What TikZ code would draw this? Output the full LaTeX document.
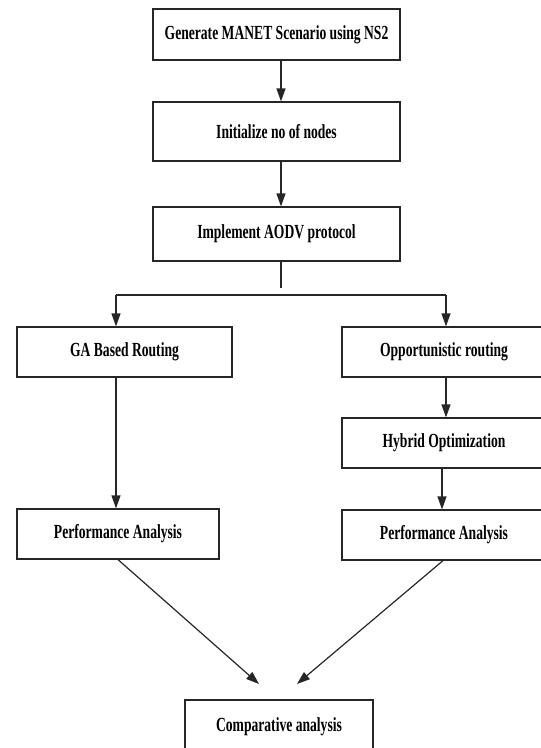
\documentclass[tikz,border=0pt]{standalone}
\usepackage{fontspec}
\setmainfont{Liberation Serif}[FakeStretch=0.68]
\usetikzlibrary{arrows.meta}
\begin{document}
\begin{tikzpicture}[x=1pt,y=-1pt,
  box/.style={draw=black!85,line width=1.2pt,rectangle,inner sep=0pt,
    font=\fontsize{20}{22}\selectfont\bfseries},
  conn/.style={draw=black!85,line width=1.2pt},
  arr/.style={conn,-{Triangle[width=9pt,length=13pt]}}]
\useasboundingbox (0,0) rectangle (541,748);
\clip (0,0) rectangle (541,748);
\node[box,minimum width=247pt,minimum height=51pt] (gen) at (276.5,34.5) {Generate MANET Scenario using NS2};
\node[box,minimum width=247pt,minimum height=59pt] (init) at (276.5,131.5) {Initialize no of nodes};
\node[box,minimum width=247pt,minimum height=54pt] (aodv) at (276.5,234) {Implement AODV protocol};
\node[box,minimum width=215pt,minimum height=50pt] (ga) at (124.5,352) {GA Based Routing};
\node[box,minimum width=204pt,minimum height=50pt] (opp) at (444,352) {Opportunistic routing};
\node[box,minimum width=204pt,minimum height=50pt] (hyb) at (444,443) {Hybrid Optimization};
\node[box,minimum width=202pt,minimum height=50pt] (pl) at (118,534) {Performance Analysis};
\node[box,minimum width=204pt,minimum height=50pt] (pr) at (444,535) {Performance Analysis};
\node[box,minimum width=188pt,minimum height=70pt] (comp) at (279,735) {};
\node[font=\fontsize{20}{22}\selectfont\bfseries] (comptxt) at (279,727) {Comparative analysis};
\coordinate (stub) at (281,288);
\coordinate (jl) at (116,295);
\coordinate (jr) at (446,295);
\coordinate (tl) at (259,684);
\coordinate (tr) at (297,684);
\draw[arr] (gen.south -| stub) -- (init.north -| stub);
\draw[arr] (init.south -| stub) -- (aodv.north -| stub);
\draw[conn] (aodv.south -| stub) -- (stub);
\draw[conn] (jl) -- (jr);
\draw[arr] (jl) -- (ga.north -| jl);
\draw[arr] (jr) -- (opp.north -| jr);
\draw[arr] (ga.south -| jl) -- (pl.north -| jl);
\draw[arr] (opp.south -| jr) -- (hyb.north -| jr);
\draw[arr] ([xshift=-2pt]hyb.south) -- ([xshift=-2pt]pr.north);
\draw[arr] (pl.south) -- (tl);
\draw[arr] ([xshift=-1pt]pr.south) -- (tr);
\end{tikzpicture}
\end{document}
